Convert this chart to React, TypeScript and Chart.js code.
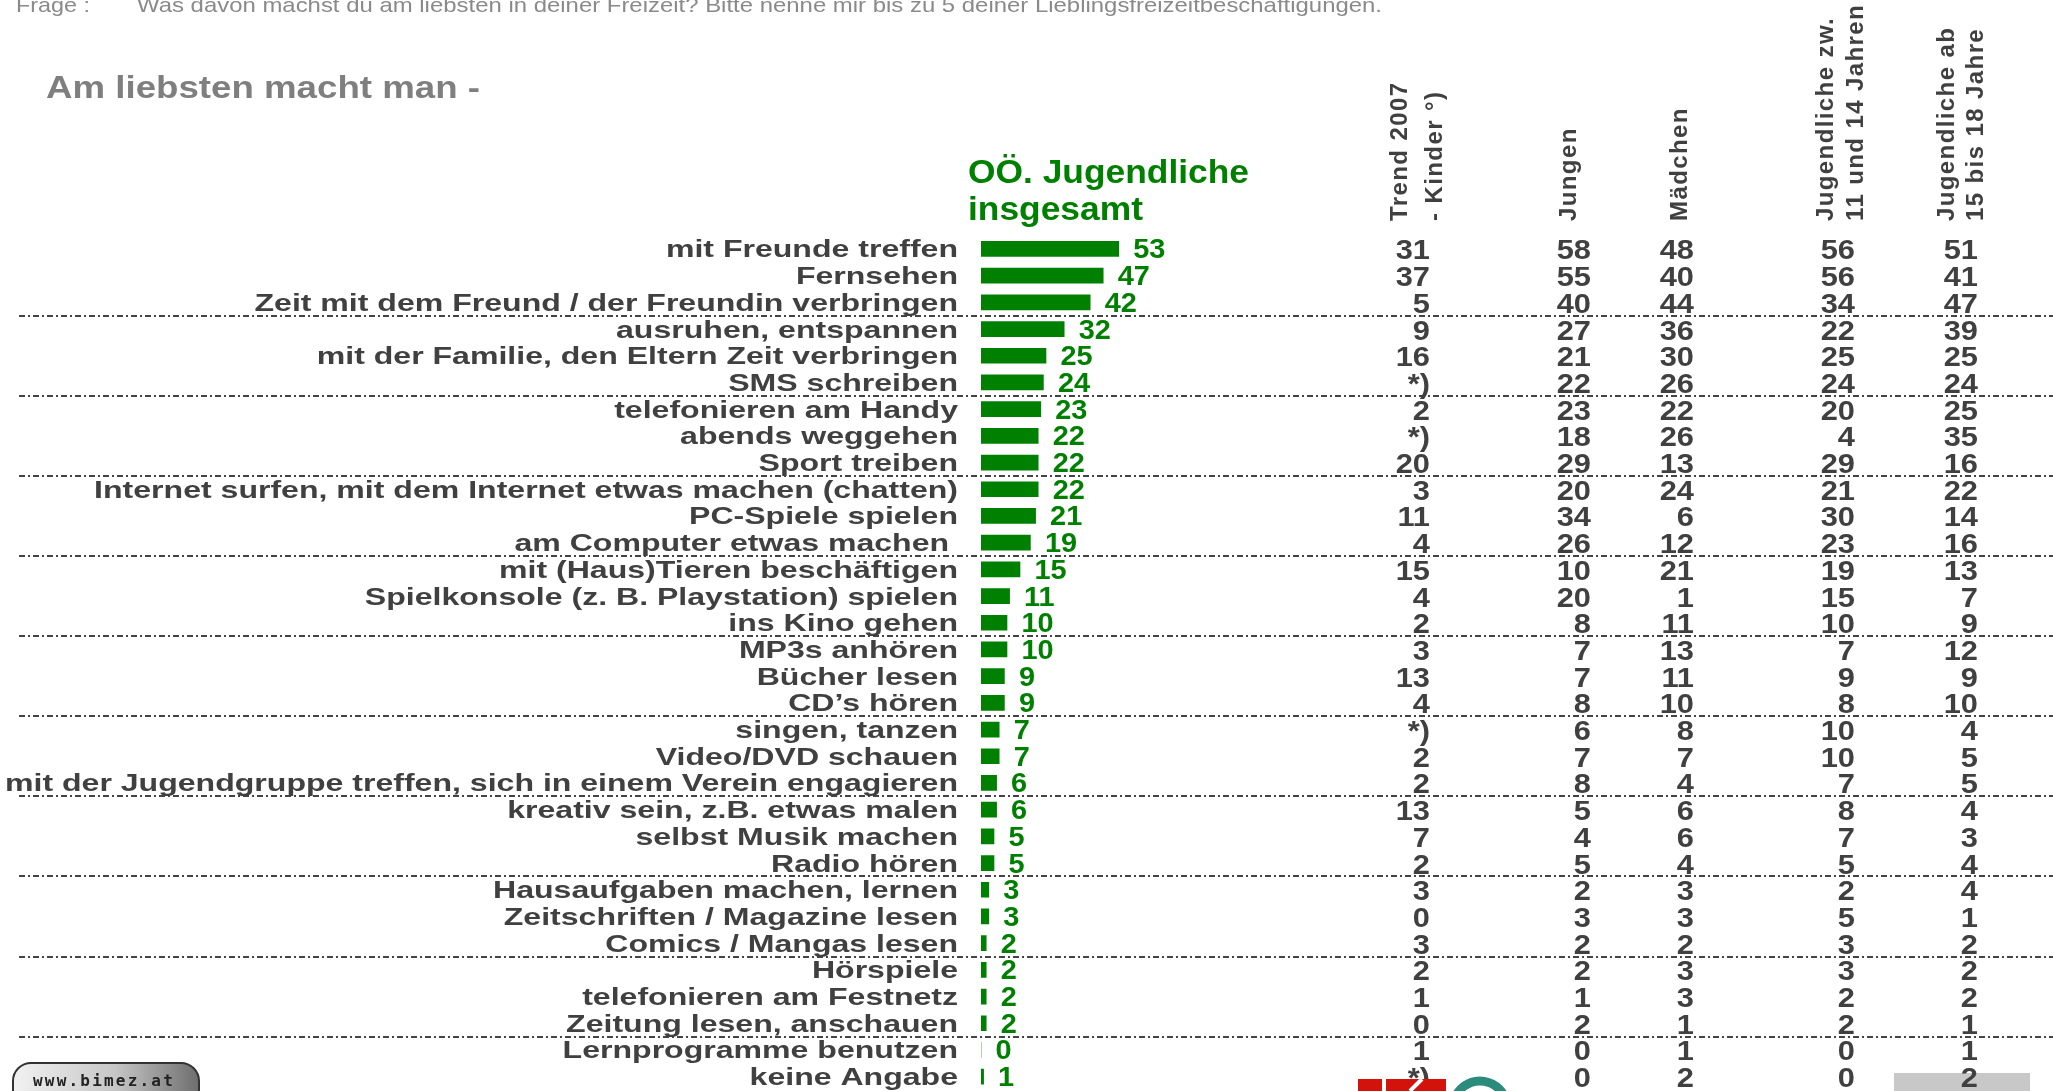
import React, { useEffect, useRef } from "react";
import { Chart, registerables } from "chart.js";

Chart.register(...registerables);

// ---------------- DATA ----------------
const questionPrefix = "Frage :";
const questionText =
  "Was davon machst du am liebsten in deiner Freizeit? Bitte nenne mir bis zu 5 deiner Lieblingsfreizeitbeschäftigungen.";
const chartTitle = "Am liebsten macht man -";
const seriesTitle = ["OÖ. Jugendliche", "insgesamt"];

const categories = [
  "mit Freunde treffen",
  "Fernsehen",
  "Zeit mit dem Freund / der Freundin verbringen",
  "ausruhen, entspannen",
  "mit der Familie, den Eltern Zeit verbringen",
  "SMS schreiben",
  "telefonieren am Handy",
  "abends weggehen",
  "Sport treiben",
  "Internet surfen, mit dem Internet etwas machen (chatten)",
  "PC-Spiele spielen",
  "am Computer etwas machen ",
  "mit (Haus)Tieren beschäftigen",
  "Spielkonsole (z. B. Playstation) spielen",
  "ins Kino gehen",
  "MP3s anhören",
  "Bücher lesen",
  "CD’s hören",
  "singen, tanzen",
  "Video/DVD schauen",
  "mit der Jugendgruppe treffen, sich in einem Verein engagieren",
  "kreativ sein, z.B. etwas malen",
  "selbst Musik machen",
  "Radio hören",
  "Hausaufgaben machen, lernen",
  "Zeitschriften / Magazine lesen",
  "Comics / Mangas lesen",
  "Hörspiele",
  "telefonieren am Festnetz",
  "Zeitung lesen, anschauen",
  "Lernprogramme benutzen",
  "keine Angabe",
];

const totals = [53, 47, 42, 32, 25, 24, 23, 22, 22, 22, 21, 19, 15, 11, 10, 10, 9, 9, 7, 7, 6, 6, 5, 5, 3, 3, 2, 2, 2, 2, 0, 1];

const trend2007 = ["31", "37", "5", "9", "16", "*)", "2", "*)", "20", "3", "11", "4", "15", "4", "2", "3", "13", "4", "*)", "2", "2", "13", "7", "2", "3", "0", "3", "2", "1", "0", "1", "*)"];
const jungen = [58, 55, 40, 27, 21, 22, 23, 18, 29, 20, 34, 26, 10, 20, 8, 7, 7, 8, 6, 7, 8, 5, 4, 5, 2, 3, 2, 2, 1, 2, 0, 0];
const maedchen = [48, 40, 44, 36, 30, 26, 22, 26, 13, 24, 6, 12, 21, 1, 11, 13, 11, 10, 8, 7, 4, 6, 6, 4, 3, 3, 2, 3, 3, 1, 1, 2];
const jugend11bis14 = [56, 56, 34, 22, 25, 24, 20, 4, 29, 21, 30, 23, 19, 15, 10, 7, 9, 8, 10, 10, 7, 8, 7, 5, 2, 5, 3, 3, 2, 2, 0, 0];
const jugend15bis18 = [51, 41, 47, 39, 25, 24, 25, 35, 16, 22, 14, 16, 13, 7, 9, 12, 9, 10, 4, 5, 5, 4, 3, 4, 4, 1, 2, 2, 2, 1, 1, 2];

const columnHeaders = [
  ["Trend 2007", "- Kinder °)"],
  ["Jungen"],
  ["Mädchen"],
  ["Jugendliche zw.", "11 und 14 Jahren"],
  ["Jugendliche ab", "15 bis 18 Jahre"],
];
const footerUrl = "www.bimez.at";

// ---------------- STYLE / LAYOUT ----------------
const W = 2053;
const H = 1091;
const GREEN = "#008000";
const DARK = "#404040";
const SANS = "'Liberation Sans', Arial, Helvetica, sans-serif";
const PLOT_LEFT = 981;
const PX_PER_UNIT = 2.6;
const X_MAX = 100;
const ROW_TOP = 235.6;
const ROW_PITCH = 26.7;
const colRight = [1430, 1591, 1694, 1855, 1978];
const headerCenters = [[1401, 1436], [1570], [1681], [1827, 1857], [1948, 1977]];

function drawText(
  ctx: CanvasRenderingContext2D,
  s: string,
  x: number,
  y: number,
  font: string,
  color: string,
  align: CanvasTextAlign,
  sx: number
) {
  ctx.save();
  ctx.font = font;
  ctx.fillStyle = color;
  ctx.textAlign = align;
  ctx.textBaseline = "alphabetic";
  ctx.translate(x, y);
  ctx.scale(sx, 1);
  ctx.fillText(s, 0, 0);
  ctx.restore();
}

function fitScale(ctx: CanvasRenderingContext2D, s: string, font: string, target: number) {
  ctx.save();
  ctx.font = font;
  const w = ctx.measureText(s).width;
  ctx.restore();
  return w > 0 ? target / w : 1;
}

const decorPlugin = {
  id: "decor",
  beforeDatasetsDraw(chart: any) {
    const ctx: CanvasRenderingContext2D = chart.ctx;
    const y = chart.scales.y;
    const n = categories.length;
    const pitch = (y.bottom - y.top) / n;
    // dash-dot separator lines after every third row
    ctx.save();
    ctx.strokeStyle = "#444444";
    ctx.lineWidth = 2;
    ctx.setLineDash([6, 3, 2, 3]);
    for (let k = 3; k < n - 1; k += 3) {
      const yy = Math.round(y.top + k * pitch);
      ctx.beginPath();
      ctx.moveTo(19, yy);
      ctx.lineTo(W, yy);
      ctx.stroke();
    }
    ctx.restore();

    // bottom-right grey box
    ctx.save();
    ctx.fillStyle = "#c8c8c8";
    ctx.fillRect(1894, 1073, 136, 20);
    ctx.restore();
  },
  afterDraw(chart: any) {
    const ctx: CanvasRenderingContext2D = chart.ctx;
    const yScale = chart.scales.y;

    // question line (cut at top)
    const qFont = `21px ${SANS}`;
    drawText(ctx, questionPrefix, 16, 12, qFont, "#8a8a8a", "left", fitScale(ctx, questionPrefix, qFont, 74));
    drawText(ctx, questionText, 137, 12, qFont, "#8a8a8a", "left", fitScale(ctx, questionText, qFont, 1245));

    // title
    const tFont = `bold 31px ${SANS}`;
    drawText(ctx, chartTitle, 46, 98, tFont, "#7f7f7f", "left", fitScale(ctx, chartTitle, tFont, 434));

    // series title
    const gFont = `bold 33px ${SANS}`;
    const gsx = fitScale(ctx, seriesTitle[0], gFont, 281);
    drawText(ctx, seriesTitle[0], 968, 183, gFont, GREEN, "left", gsx);
    drawText(ctx, seriesTitle[1], 968, 220, gFont, GREEN, "left", gsx);

    // rotated column headers
    const hFont = `bold 24px ${SANS}`;
    ctx.save();
    ctx.font = hFont;
    ctx.fillStyle = DARK;
    ctx.textAlign = "left";
    ctx.textBaseline = "alphabetic";
    columnHeaders.forEach((lines, ci) => {
      lines.forEach((line, li) => {
        ctx.save();
        ctx.translate(headerCenters[ci][li] + 6, 221);
        ctx.rotate(-Math.PI / 2);
        (ctx as any).letterSpacing = "1.4px";
        ctx.fillText(line, 0, 0);
        ctx.restore();
      });
    });
    ctx.restore();

    // category labels
    const lFont = `bold 24px ${SANS}`;
    ctx.save();
    ctx.font = lFont;
    let maxW = 0;
    categories.forEach((c) => {
      maxW = Math.max(maxW, ctx.measureText(c).width);
    });
    ctx.restore();
    const lsx = 953 / maxW;
    categories.forEach((c, i) => {
      const yc = yScale.getPixelForValue(i);
      drawText(ctx, c, 958, yc + 8.5, lFont, DARK, "right", lsx);
    });

    // value labels next to bars
    const meta = chart.getDatasetMeta(0);
    const vFont = `bold 27px ${SANS}`;
    meta.data.forEach((bar: any, i: number) => {
      drawText(ctx, String(totals[i]), bar.x + 14.5, bar.y + 9.5, vFont, GREEN, "left", 1.07);
    });

    // table columns
    const nFont = `bold 28px ${SANS}`;
    const cols = [trend2007, jungen, maedchen, jugend11bis14, jugend15bis18];
    cols.forEach((col, ci) => {
      col.forEach((v: any, i: number) => {
        const yc = yScale.getPixelForValue(i);
        drawText(ctx, String(v), colRight[ci], yc + 10.5, nFont, DARK, "right", 1.1);
      });
    });

    // bottom logo (red block + teal arc)
    ctx.save();
    ctx.fillStyle = "#d3130b";
    ctx.fillRect(1358, 1079, 88, 13);
    ctx.strokeStyle = "#ffffff";
    ctx.lineWidth = 4;
    ctx.beginPath();
    ctx.moveTo(1384, 1079);
    ctx.lineTo(1384, 1091);
    ctx.moveTo(1422, 1079);
    ctx.lineTo(1410, 1091);
    ctx.stroke();
    ctx.strokeStyle = "#2b8c7c";
    ctx.lineWidth = 9;
    ctx.beginPath();
    ctx.arc(1480, 1108, 27, Math.PI * 1.05, Math.PI * 1.95);
    ctx.stroke();
    ctx.restore();

    // www.bimez.at pill
    ctx.save();
    const px = 13, py = 1063, pw = 186, ph = 40, r = 18;
    const grad = ctx.createLinearGradient(px, 0, px + pw, 0);
    grad.addColorStop(0, "#f2f2f2");
    grad.addColorStop(0.55, "#c6c6c6");
    grad.addColorStop(1, "#6e6e6e");
    ctx.beginPath();
    ctx.moveTo(px + r, py);
    ctx.lineTo(px + pw - r, py);
    ctx.arcTo(px + pw, py, px + pw, py + r, r);
    ctx.lineTo(px + pw, py + ph);
    ctx.lineTo(px, py + ph);
    ctx.lineTo(px, py + r);
    ctx.arcTo(px, py, px + r, py, r);
    ctx.closePath();
    ctx.fillStyle = grad;
    ctx.fill();
    ctx.strokeStyle = "#333";
    ctx.lineWidth = 2;
    ctx.stroke();
    ctx.font = `bold 16px 'DejaVu Sans Mono', monospace`;
    (ctx as any).letterSpacing = "2.2px";
    ctx.fillStyle = "#222";
    ctx.textAlign = "left";
    ctx.fillText(footerUrl, 33, 1086);
    ctx.restore();
  },
};

export default function App() {
  const ref = useRef<HTMLCanvasElement | null>(null);
  useEffect(() => {
    if (!ref.current) return;
    const chart = new Chart(ref.current, {
      type: "bar",
      data: {
        labels: categories,
        datasets: [
          {
            data: totals,
            backgroundColor: GREEN,
            barThickness: 15,
            borderWidth: 0,
          },
        ],
      },
      options: {
        indexAxis: "y",
        responsive: false,
        maintainAspectRatio: false,
        animation: false,
        devicePixelRatio: 1,
        layout: {
          padding: {
            top: ROW_TOP,
            bottom: H - ROW_TOP - ROW_PITCH * categories.length,
            left: 0,
            right: W - PLOT_LEFT - X_MAX * PX_PER_UNIT,
          },
        },
        plugins: {
          legend: { display: false },
          tooltip: { enabled: false },
          title: { display: false },
        },
        scales: {
          x: { display: false, min: 0, max: X_MAX },
          y: {
            display: true,
            grid: { display: false, drawTicks: false },
            border: { display: false },
            ticks: { display: false },
            afterFit: (scale: any) => {
              scale.width = PLOT_LEFT;
            },
          },
        },
      } as any,
      plugins: [decorPlugin],
    });
    return () => chart.destroy();
  }, []);
  return (
    <div style={{ position: "absolute", left: 0, top: 0, width: W, height: H, background: "#fff" }}>
      <canvas ref={ref} width={W} height={H} style={{ display: "block", width: W, height: H }} />
    </div>
  );
}
